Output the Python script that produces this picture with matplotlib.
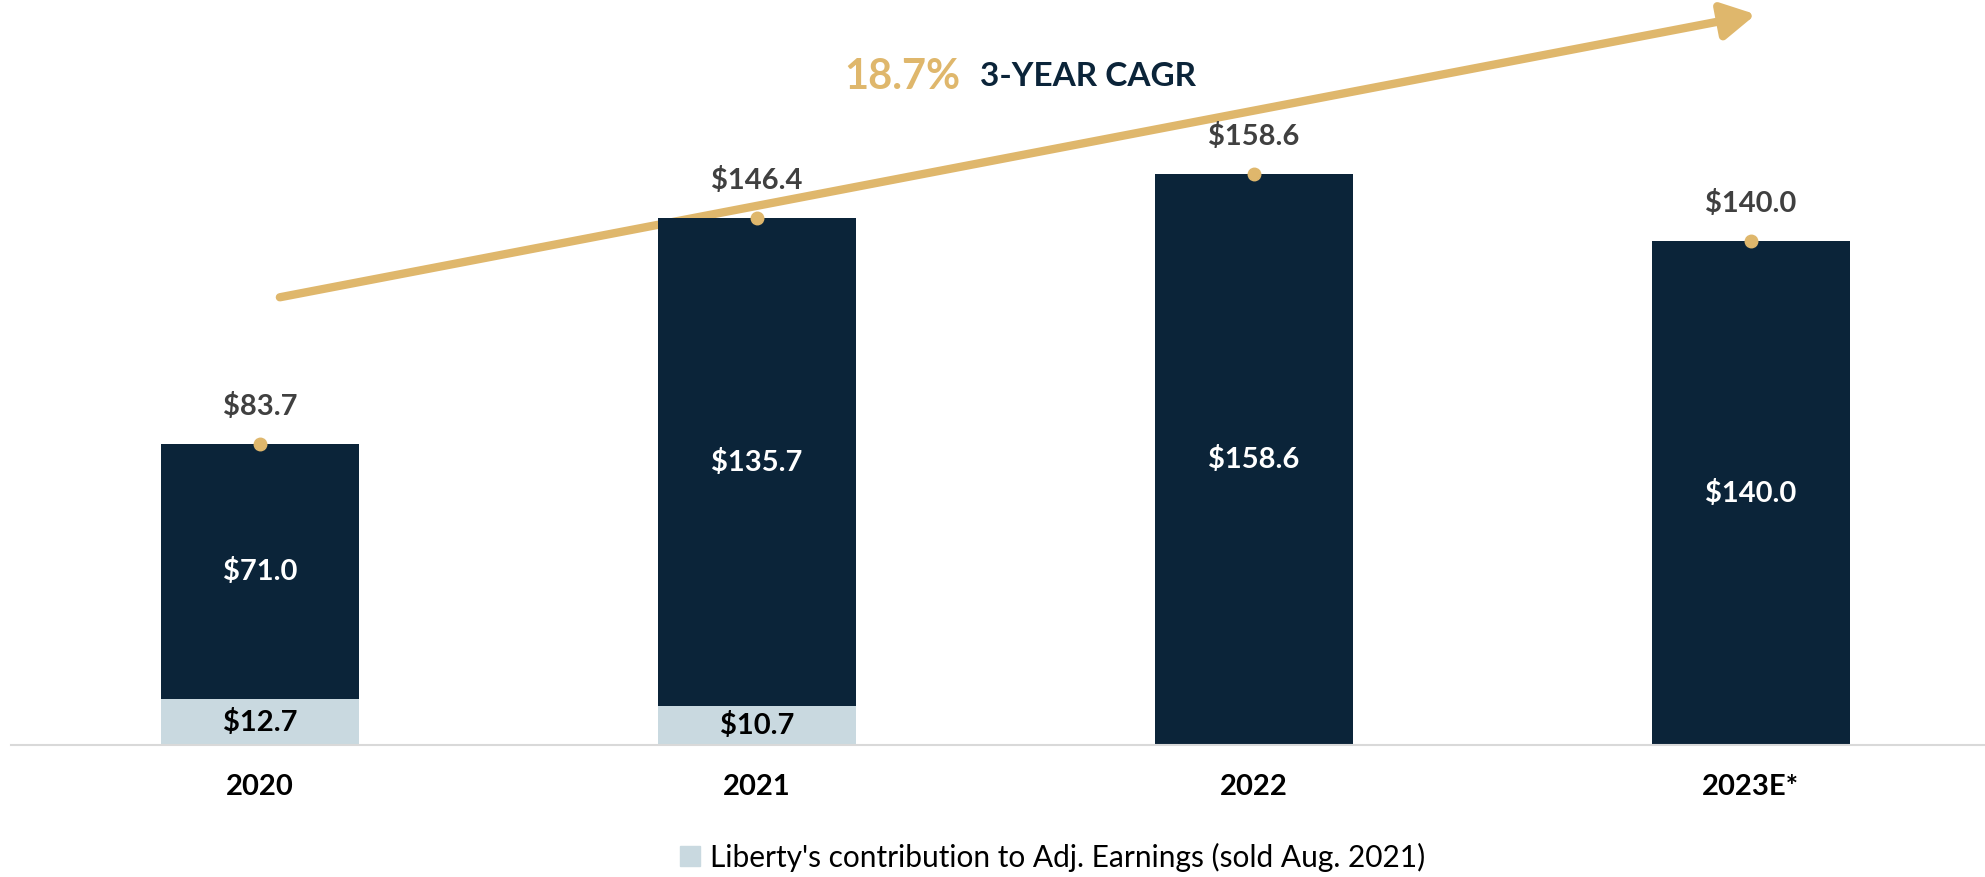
import numpy as np
import matplotlib
matplotlib.use('Agg')
import matplotlib.pyplot as plt
from matplotlib.patches import Patch

# data (in $ millions)
years = ['2020', '2021', '2022', '2023E*']
core = [71.0, 135.7, 158.6, 140.0]
liberty = [12.7, 10.7, 0.0, 0.0]
totals = [83.7, 146.4, 158.6, 140.0]
cagr_label = '18.7%'
cagr_text = '3-YEAR CAGR'
legend_label = "Liberty's contribution to Adj. Earnings (sold Aug. 2021)"

navy = '#0b2439'
light = '#c9d9e0'
gold = '#dfb76c'
grey_txt = '#404040'

plt.rcParams['font.family'] = ['Lato', 'DejaVu Sans']

fig = plt.figure(figsize=(19.85, 8.77), dpi=100)
ax = fig.add_axes([11/1985, 132/877, 1974/1985, 745/877])

x = np.arange(len(years))
w = 0.4
ax.bar(x, liberty, w, color=light, zorder=2)
ax.bar(x, core, w, bottom=liberty, color=navy, zorder=2)

for i in range(len(years)):
    if liberty[i] > 0:
        ax.text(x[i], liberty[i] / 2, f'${liberty[i]:.1f}', ha='center', va='center',
                fontsize=21, fontweight='bold', color='black', zorder=3)
    ax.text(x[i], liberty[i] + core[i] / 2, f'${core[i]:.1f}', ha='center', va='center',
            fontsize=21, fontweight='bold', color='white', zorder=3)
    ax.plot(x[i], totals[i], 'o', color=gold, ms=9, zorder=4, clip_on=False)
    ax.annotate(f'${totals[i]:.1f}', (x[i], totals[i]), xytext=(0, 27),
                textcoords='offset points', ha='center', va='center',
                fontsize=21, fontweight='bold', color=grey_txt)

# CAGR arrow
ax.annotate('', xy=(3.01, 203), xytext=(0.04, 124.4),
            arrowprops=dict(arrowstyle='-|>,head_length=1.0,head_width=0.55',
                            color=gold, lw=6, mutation_scale=20,
                            shrinkA=0, shrinkB=0), zorder=1)
ax.text(844, 877 - 77, cagr_label, transform=None, ha='left', va='center',
        fontsize=30, fontweight='bold', color=gold)
ax.text(980, 877 - 77, cagr_text, transform=None, ha='left', va='center',
        fontsize=24, fontweight='bold', color=navy)

ax.set_xlim(-0.501, 3.471)
ax.set_ylim(0, 207)
ax.set_xticks(x)
ax.set_xticklabels(years, fontsize=21, fontweight='bold')
ax.tick_params(axis='x', length=0, pad=21)
ax.set_yticks([])
for s in ['top', 'left', 'right']:
    ax.spines[s].set_visible(False)
ax.spines['bottom'].set_color('#d9d9d9')
ax.spines['bottom'].set_linewidth(1.5)

fig.legend(handles=[Patch(color=light, label=legend_label)], loc='center',
           bbox_to_anchor=(1053/1985, 20/877), frameon=False, fontsize=21.5,
           handlelength=0.65, handleheight=0.65, handletextpad=0.35)

fig.savefig('out.png', dpi=100)
